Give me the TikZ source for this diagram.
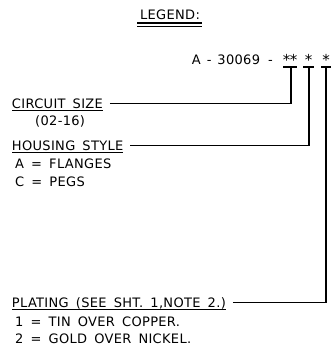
\documentclass[tikz,border=0pt]{standalone}
\usepackage{fontspec}
\setmainfont[LetterSpace=2.5,WordSpace=1.6]{DejaVu Sans}
\usetikzlibrary{positioning,calc}
\tikzset{>=latex}
\tikzset{font=\fontsize{13}{15}\selectfont}
\tikzset{lbl/.style={anchor=base west, inner sep=0pt},
  ulbl/.style={anchor=base west, inner sep=0pt, outer sep=0pt},
  star/.style={anchor=base, inner sep=0pt, font=\fontsize{15}{15}\selectfont},
  lead/.style={line width=1.1pt}}

\begin{document}
\begin{tikzpicture}[x=1pt,y=-1pt]
  \useasboundingbox (0,0) rectangle (334,349);
  % title
  \node[inner sep=0pt, anchor=base] (legend) at (170,19) {LEGEND:};
  \draw[lead] (137,23) -- (202,23);
  \draw[lead] (137,26.5) -- (202,26.5);
  % part number
  \node[inner sep=0pt, anchor=base east] (partno) at (273,64)
    {A\hspace{6pt}-\hspace{6pt}30069\hspace{8pt}-};
  \node[star] (starA) at (290,65) {*\kern-0.5pt*};
  \node[star] (starB) at (308.5,65) {*};
  \node[star] (starC) at (326,65) {*};
  \coordinate (tA) at (291,67);
  \coordinate (tB) at (309,67);
  \coordinate (tC) at (326,67);
  \draw[lead] (283,67) -- (297,67);
  \draw[lead] (303,67) -- (314,67);
  \draw[lead] (321,67) -- (331,67);
  % circuit size
  \node[ulbl] (circuit) at (12,108) {CIRCUIT SIZE};
  \draw[lead] ($(circuit.base west)+(0,2.5)$) -- ($(circuit.base east)+(0,2.5)$);
  \node[lbl] (range) at (35,125) {(02-16)};
  \draw[lead] ($(circuit.east)+(7,0)$) -| (tA);
  % housing style
  \node[ulbl] (housing) at (12,150) {HOUSING STYLE};
  \draw[lead] ($(housing.base west)+(0,2.5)$) -- ($(housing.base east)+(0,2.5)$);
  \node[lbl] (flanges) at (15,168) {A = FLANGES};
  \node[lbl] (pegs) at (15,186) {C = PEGS};
  \draw[lead] ($(housing.east)+(7,0)$) -| (tB);
  % plating
  \node[ulbl] (plating) at (12,307) {PLATING (SEE SHT. 1,NOTE 2.)};
  \draw[lead] ($(plating.base west)+(0,2.5)$) -- ($(plating.base east)+(0,2.5)$);
  \node[lbl] (tin) at (15,326) {1 = TIN OVER COPPER.};
  \node[lbl] (gold) at (15,343) {2 = GOLD OVER NICKEL.};
  \draw[lead] ($(plating.east)+(7,0)$) -| (tC);
\end{tikzpicture}
\end{document}
